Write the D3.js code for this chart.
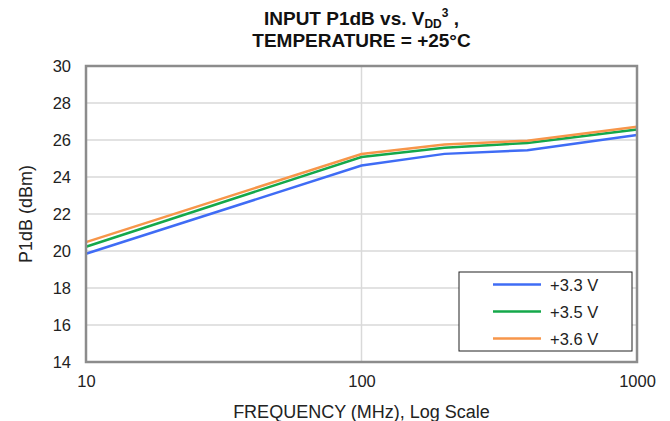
<!DOCTYPE html>
<html>
<head>
<meta charset="utf-8">
<script src="https://cdn.jsdelivr.net/npm/d3@7"></script>
<style>
  body { margin: 0; background: #fff; }
  svg { font-family: "Liberation Sans", Arial, sans-serif; }
</style>
</head>
<body>
<svg id="chart" width="670" height="421"></svg>
<script>
// frequencies in MHz
var freqs = [10, 100, 200, 400, 1000];
var seriesNames = ['+3.3 V', '+3.5 V', '+3.6 V'];
var seriesColors = ['#3f6cf5', '#14a84a', '#f7964a'];
var p1dB_33 = [19.85, 24.62, 25.25, 25.45, 26.27];
var p1dB_35 = [20.23, 25.08, 25.58, 25.84, 26.57];
var p1dB_36 = [20.48, 25.24, 25.76, 25.96, 26.72];
var yTicks = [14, 16, 18, 20, 22, 24, 26, 28, 30];
var xTicks = [10, 100, 1000];

var allSeries = [p1dB_33, p1dB_35, p1dB_36];

var margin = { left: 86, right: 33, top: 66, bottom: 59 };
var width = 670, height = 421;

var svg = d3.select('#chart');

var x = d3.scaleLog().domain([10, 1000]).range([margin.left, width - margin.right]);
var y = d3.scaleLinear().domain([14, 30]).range([height - margin.bottom, margin.top]);

// gridlines
svg.append('g')
    .selectAll('line')
    .data(yTicks)
    .enter()
    .append('line')
    .attr('x1', x(10)).attr('x2', x(1000))
    .attr('y1', (d) => y(d)).attr('y2', (d) => y(d))
    .style('stroke', '#d9d9d9').style('stroke-width', 1.5);

svg.append('g')
    .selectAll('line')
    .data(xTicks)
    .enter()
    .append('line')
    .attr('x1', (d) => x(d)).attr('x2', (d) => x(d))
    .attr('y1', y(14)).attr('y2', y(30))
    .style('stroke', '#d9d9d9').style('stroke-width', 1.5);

// lines
var line = d3.line()
    .x((d, i) => x(freqs[i]))
    .y((d) => y(d));

svg.append('g')
    .selectAll('path')
    .data(allSeries)
    .enter()
    .append('path')
    .attr('d', line)
    .style('fill', 'none')
    .style('stroke', (d, i) => seriesColors[i])
    .style('stroke-width', 2.5);

// plot border
svg.append('rect')
    .attr('x', x(10)).attr('y', y(30))
    .attr('width', x(1000) - x(10)).attr('height', y(14) - y(30))
    .style('fill', 'none').style('stroke', '#8c8c8c').style('stroke-width', 2.5);

// y axis labels
var yAxis = d3.axisLeft(y).tickValues(yTicks).tickSize(0).tickPadding(15);
var gy = svg.append('g').attr('transform', 'translate(' + x(10) + ',0)').call(yAxis);
gy.select('.domain').remove();
gy.selectAll('text').style('font-size', '16.5px').style('fill', '#222')
    .style('font-family', '"Liberation Sans", Arial, sans-serif');

// x axis labels
var xAxis = d3.axisBottom(x).tickValues(xTicks).tickFormat(d3.format('d')).tickSize(0).tickPadding(13);
var gx = svg.append('g').attr('transform', 'translate(0,' + y(14) + ')').call(xAxis);
gx.select('.domain').remove();
gx.selectAll('text').style('font-size', '16.5px').style('fill', '#222')
    .style('font-family', '"Liberation Sans", Arial, sans-serif');

// axis titles
svg.append('text')
    .attr('x', (x(10) + x(1000)) / 2).attr('y', 418)
    .attr('text-anchor', 'middle')
    .style('font-size', '18px').style('fill', '#222')
    .text('FREQUENCY (MHz), Log Scale');

svg.append('text')
    .attr('transform', 'translate(32,' + (y(14) + y(30)) / 2 + ') rotate(-90)')
    .attr('text-anchor', 'middle')
    .style('font-size', '18px').style('fill', '#222')
    .text('P1dB (dBm)');

// title
var cx = (x(10) + x(1000)) / 2;
var t1 = svg.append('text')
    .attr('x', cx).attr('y', 25)
    .attr('text-anchor', 'middle')
    .style('font-size', '19px').style('font-weight', 'bold').style('fill', '#111');
t1.append('tspan').text('INPUT P1dB vs. V');
t1.append('tspan').attr('dy', 3).style('font-size', '12px').text('DD');
t1.append('tspan').attr('dy', -11).style('font-size', '12px').text('3');
t1.append('tspan').attr('dy', 8).text(' ,');

svg.append('text')
    .attr('x', cx).attr('y', 47)
    .attr('text-anchor', 'middle')
    .style('font-size', '19px').style('font-weight', 'bold').style('fill', '#111')
    .text('TEMPERATURE = +25°C');

// legend
var legend = svg.append('g').attr('transform', 'translate(459,272)');
legend.append('rect')
    .attr('width', 173).attr('height', 79)
    .style('fill', '#fff').style('stroke', '#222').style('stroke-width', 1);
var items = legend.selectAll('g.item')
    .data(seriesNames)
    .enter()
    .append('g')
    .attr('transform', (d, i) => 'translate(0,' + (12.5 + i * 27) + ')');
items.append('line')
    .attr('x1', 34).attr('x2', 82)
    .style('stroke', (d, i) => seriesColors[i]).style('stroke-width', 2.5);
items.append('text')
    .attr('x', 91).attr('y', 6)
    .style('font-size', '16.5px').style('fill', '#222')
    .text((d) => d);
</script>
</body>
</html>
